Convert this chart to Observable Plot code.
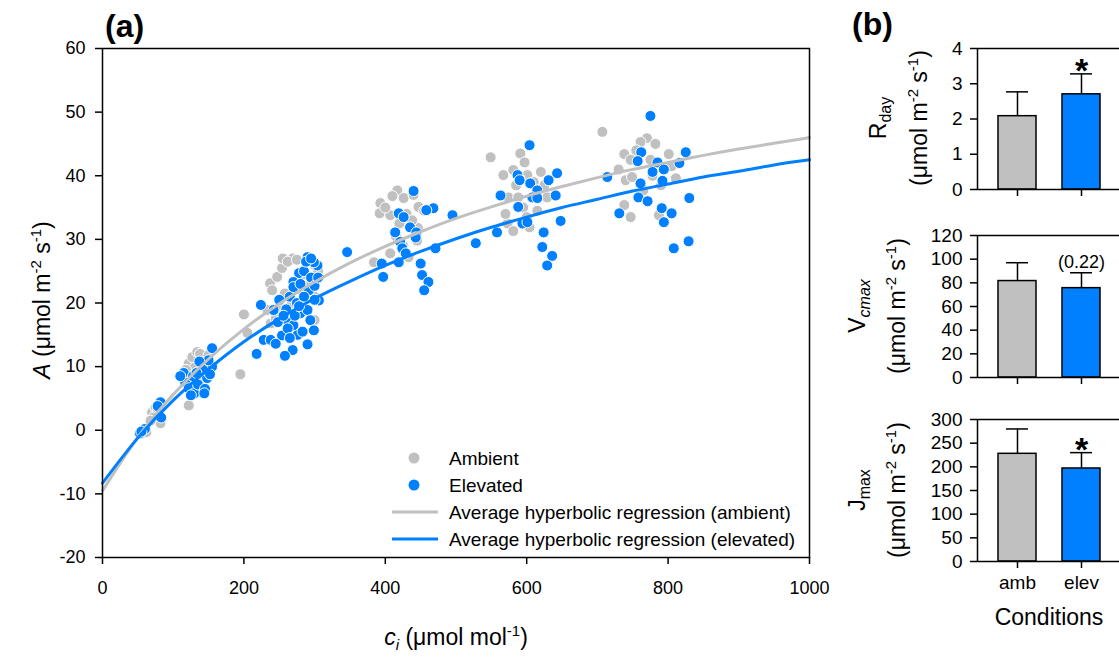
<!DOCTYPE html>
<html>
<head>
<meta charset="utf-8">
<script src="https://cdn.jsdelivr.net/npm/d3@7"></script>
<script src="https://cdn.jsdelivr.net/npm/@observablehq/plot@0.6"></script>
<style>
  html, body { margin: 0; padding: 0; background: white; }
  #root { position: relative; width: 1119px; height: 657px; overflow: hidden; background: white;
          font-family: "Liberation Sans", Arial, sans-serif; }
  .panel { position: absolute; }
  #overlay { position: absolute; left: 0; top: 0; pointer-events: none; }
</style>
</head>
<body>
<div id="root">
  <div id="pa" class="panel" style="left:0;top:0;width:830px;"></div>
  <div id="pb1" class="panel" style="left:830px;top:0;width:300px;"></div>
  <div id="pb2" class="panel" style="left:830px;top:200px;width:300px;"></div>
  <div id="pb3" class="panel" style="left:830px;top:390px;width:300px;"></div>
  <svg id="overlay" width="1119" height="657" font-family="Liberation Sans, Arial, sans-serif" fill="black">
    <text x="105" y="37" font-size="32" font-weight="bold">(a)</text>
    <text x="852" y="35" font-size="32" font-weight="bold">(b)</text>
    <text transform="translate(50,300) rotate(-90)" text-anchor="middle" font-size="23"><tspan font-style="italic">A</tspan> (μmol m<tspan dy="-9" font-size="15">-2</tspan><tspan dy="9"> s</tspan><tspan dy="-9" font-size="15">-1</tspan><tspan dy="9">)</tspan></text>
    <text x="456" y="645" text-anchor="middle" font-size="23"><tspan font-style="italic">c</tspan><tspan font-style="italic" font-size="15" dy="5">i</tspan><tspan dy="-5"> (μmol mol</tspan><tspan dy="-9" font-size="15">-1</tspan><tspan dy="9">)</tspan></text>
    <!-- legend -->
    <g id="legend" font-size="19">
      <circle cx="414" cy="458" r="5.5" fill="#c0c0c0"></circle>
      <text x="449" y="465">Ambient</text>
      <circle cx="414" cy="485" r="5.5" fill="#0080ff"></circle>
      <text x="449" y="492">Elevated</text>
      <line x1="392" x2="438" y1="512" y2="512" stroke="#c0c0c0" stroke-width="3"></line>
      <text x="449" y="519">Average hyperbolic regression (ambient)</text>
      <line x1="392" x2="438" y1="539" y2="539" stroke="#0080ff" stroke-width="3"></line>
      <text x="449" y="546">Average hyperbolic regression (elevated)</text>
    </g>
    <!-- panel b labels -->
    <text transform="translate(886,118) rotate(-90)" text-anchor="middle" font-size="23">R<tspan font-size="16" dy="5">day</tspan></text>
    <text transform="translate(927,118) rotate(-90)" text-anchor="middle" font-size="23">(μmol m<tspan dy="-9" font-size="15">-2</tspan><tspan dy="9"> s</tspan><tspan dy="-9" font-size="15">-1</tspan><tspan dy="9">)</tspan></text>
    <text transform="translate(865,306) rotate(-90)" text-anchor="middle" font-size="23">V<tspan font-size="16" dy="5" font-style="italic">cmax</tspan></text>
    <text transform="translate(905,306) rotate(-90)" text-anchor="middle" font-size="23">(μmol m<tspan dy="-9" font-size="15">-2</tspan><tspan dy="9"> s</tspan><tspan dy="-9" font-size="15">-1</tspan><tspan dy="9">)</tspan></text>
    <text transform="translate(865,490) rotate(-90)" text-anchor="middle" font-size="23">J<tspan font-size="16" dy="5">max</tspan></text>
    <text transform="translate(905,490) rotate(-90)" text-anchor="middle" font-size="23">(μmol m<tspan dy="-9" font-size="15">-2</tspan><tspan dy="9"> s</tspan><tspan dy="-9" font-size="15">-1</tspan><tspan dy="9">)</tspan></text>
    <text x="1049" y="625" text-anchor="middle" font-size="23">Conditions</text>
  </svg>
</div>
<script>
// ---------- Panel (a) data ----------
const ambCi = [58,62,70,75,78,82,72,68,80,
  122,122,127,134,130,140,145,118,138,150,125,142,132,
  195,200,205,
  237,247,269,254,233,238,240,255,262,275,285,295,300,305,258,268,250,290,280,300,245,300,
  417,393,392,426,447,407,446,384,407,433,410,430,438,420,455,400,440,415,425,445,
  549,
  591,597,567,581,620,601,574,588,629,573,581,604,585,610,595,615,570,600,625,590,
  707,770,761,782,738,747,801,775,796,811,740,749,765,738,747,787,755,790,805,730,778];
const ambA = [-0.5,-0.3,2.8,3.5,3.2,1.1,2.0,1.5,4.0,
  3.9,10.5,11.5,12.3,9.8,11.0,10.2,9.5,12.0,11.8,8.0,7.5,6.0,
  8.8,18.2,15.3,
  23.1,24.1,27.0,25.5,18.9,16.8,22.0,27.0,26.5,26.8,24.5,23.0,26.0,25.0,21.5,20.0,19.5,19.0,22.2,21.0,17.5,17.3,
  37.7,35.7,34.1,36.5,35.1,33.8,31.8,26.4,27.8,27.2,36.8,34.0,33.0,32.5,34.5,35.0,37.0,30.5,29.0,29.8,
  42.9,
  43.5,42.1,40.1,40.9,40.6,40.1,36.6,36.6,36.6,32.5,31.3,31.9,38.5,39.0,35.0,34.5,34.0,33.5,38.5,39.5,
  46.9,45.9,45.3,45.0,43.4,42.5,43.4,42.5,41.2,39.6,39.3,39.8,37.7,35.4,33.5,33.8,44.0,38.5,41.5,41.0,40.0];

const eleCi = [53,82,83,78,60,55,
  115,117,155,155,148,139,122,130,135,142,150,145,128,137,152,125,144,110,133,
  218,224,228,238,242,254,269,276,261,270,280,290,294,299,306,292,304,290,299,278,270,
  250,260,265,270,275,280,285,262,272,285,295,300,248,256,290,283,300,288,295,278,265,305,245,258,
  346,
  440,468,458,495,419,426,435,444,443,414,421,424,429,419,395,471,397,450,452,461,455,528,
  604,587,590,605,615,631,643,563,608,615,641,588,594,601,558,624,648,622,636,629,
  775,762,757,825,785,816,778,794,714,792,761,758,771,830,731,791,805,794,829,808];
const eleA = [-0.5,4.4,2.0,3.8,0.2,-0.2,
  9.0,7.5,12.9,10.0,8.2,6.0,6.6,5.8,7.2,9.5,11.0,6.5,8.5,10.8,8.8,5.5,5.8,8.5,9.0,
  12.0,19.7,14.2,14.2,18.9,14.9,12.6,15.0,17.3,16.5,18.4,18.9,17.3,15.7,20.4,22.0,25.9,27.2,26.4,24.7,23.3,
  20.5,19.0,21.0,22.5,20.0,23.0,25.0,16.0,18.0,21.0,24.0,22.7,17.0,18.0,13.5,15.5,20.5,26.5,27.0,19.5,14.5,24.0,13.6,11.7,
  28.0,
  37.6,34.9,34.6,33.8,34.1,33.5,31.9,31.1,30.3,31.1,29.6,28.6,27.8,26.4,26.2,28.6,24.1,26.2,24.4,23.3,22.0,29.4,
  44.8,40.1,39.3,38.8,37.7,39.3,40.4,36.9,36.6,36.5,36.9,35.1,32.5,32.7,31.1,31.1,32.9,28.8,27.4,25.9,
  49.4,43.7,42.3,43.7,42.1,42.0,40.6,41.0,39.8,39.2,38.8,36.6,36.0,36.5,34.1,34.9,34.1,32.7,29.7,28.6];

// regression curves
const curveCi = [0,50,100,150,200,250,300,350,400,450,500,550,600,650,700,750,800,850,900,950,1000];
const ambFit = [-9.5,-1.1,5.6,11.2,15.9,19.9,23.3,26.3,28.9,31.2,33.3,35.1,36.8,38.3,39.7,41.0,42.1,43.2,44.2,45.1,46.0];
const eleFit = [-8.3,-1.2,4.7,9.6,13.9,17.5,20.7,23.4,25.9,28.1,30.1,31.9,33.5,35.0,36.3,37.6,38.7,39.8,40.7,41.7,42.5];

const xTicksA = [0,200,400,600,800,1000];
const yTicksA = [-20,-10,0,10,20,30,40,50,60];

// ---------- Panel (b) data ----------
const conditions = ["amb","elev"];
const rdayMean = [2.08, 2.70];
const rdayUpper = [2.77, 3.28];
const rdayNote = ["", "*"];
const vcmaxMean = [81.5, 75.5];
const vcmaxUpper = [97, 88.5];
const vcmaxNote = ["", "(0.22)"];
const jmaxMean = [227.5, 196.5];
const jmaxUpper = [280, 230];
const jmaxNote = ["", "*"];
const rdayTicks = [0,1,2,3,4];
const vcmaxTicks = [0,20,40,60,80,100,120];
const jmaxTicks = [0,50,100,150,200,250,300];

const GRAY = "#c0c0c0";
const BLUE = "#0080ff";

// ---------- Panel (a) ----------
const amb = ambCi.map((c,i)=>({ci:c, A:ambA[i]}));
const ele = eleCi.map((c,i)=>({ci:c, A:eleA[i]}));
const fitA = curveCi.map((c,i)=>({ci:c, A:ambFit[i]}));
const fitE = curveCi.map((c,i)=>({ci:c, A:eleFit[i]}));

const plotA = Plot.plot({
  width: 830, height: 600,
  marginLeft: 102, marginTop: 48, marginRight: 21, marginBottom: 43,
  style: {fontFamily: "Liberation Sans, Arial, sans-serif", fontSize: "18px", color: "black", background: "transparent", overflow: "visible"},
  x: {domain: [0,1000]},
  y: {domain: [-20,60]},
  marks: [
    Plot.dot(amb, {x:"ci", y:"A", r:5.5, fill:GRAY, stroke:"white", strokeWidth:1}),
    Plot.dot(ele, {x:"ci", y:"A", r:5.5, fill:BLUE, stroke:"white", strokeWidth:1}),
    Plot.line(fitA, {x:"ci", y:"A", stroke:GRAY, strokeWidth:3, curve:"natural"}),
    Plot.line(fitE, {x:"ci", y:"A", stroke:BLUE, strokeWidth:3, curve:"natural"}),
    Plot.frame({stroke:"black", strokeWidth:1.5}),
    Plot.axisX({ticks: xTicksA, tickSize: 7, tickPadding: 17, tickFormat: d => String(d), label: null, strokeWidth: 1.5}),
    Plot.axisY({ticks: yTicksA, tickSize: 7, tickPadding: 10, tickFormat: d => String(d), label: null, strokeWidth: 1.5})
  ]
});
document.getElementById("pa").appendChild(plotA);

// ---------- Panel (b) ----------
function barPanel(opts) {
  const rows = conditions.map((c,i)=>({c, v: opts.mean[i], u: opts.upper[i], n: opts.note[i], col: i===0 ? GRAY : BLUE}));
  return Plot.plot({
    width: 300, height: opts.height,
    marginLeft: 147, marginRight: 9, marginTop: opts.marginTop, marginBottom: opts.marginBottom,
    style: {fontFamily: "Liberation Sans, Arial, sans-serif", fontSize: "19px", color: "black", background: "transparent", overflow: "visible"},
    x: {domain: conditions, paddingInner: 0.406, paddingOuter: 0.328},
    y: {domain: opts.domain},
    marks: [
      Plot.ruleX(rows, {x:"c", y1:"v", y2:"u", stroke:"black", strokeWidth:1.5}),
      Plot.tickY(rows, {x:"c", y:"u", stroke:"black", strokeWidth:1.5, insetLeft:8, insetRight:8}),
      Plot.barY(rows, {x:"c", y:"v", fill:"col", stroke:"black", strokeWidth:1.5}),
      Plot.text(rows, {x:"c", y:"u", text:"n", fontSize: opts.noteSize, fontWeight: opts.noteWeight, lineAnchor:"bottom", dy: opts.noteDy}),
      Plot.frame({stroke:"black", strokeWidth:1.5}),
      Plot.axisX({tickSize: 7, tickPadding: 7, tickFormat: opts.showLabels ? (d => d) : (() => ""), label: null, strokeWidth: 1.5}),
      Plot.axisY({ticks: opts.ticks, tickSize: 7, tickPadding: 8, tickFormat: d => String(d), label: null, strokeWidth: 1.5})
    ]
  });
}

document.getElementById("pb1").appendChild(barPanel({
  mean: rdayMean, upper: rdayUpper, note: rdayNote, ticks: rdayTicks, domain: [0,4],
  height: 210, marginTop: 48, marginBottom: 21, showLabels: false, noteSize: 34, noteDy: 8, noteWeight: "bold"}));
document.getElementById("pb2").appendChild(barPanel({
  mean: vcmaxMean, upper: vcmaxUpper, note: vcmaxNote, ticks: vcmaxTicks, domain: [0,120],
  height: 190, marginTop: 35, marginBottom: 13, showLabels: false, noteSize: 18, noteDy: -5, noteWeight: "normal"}));
document.getElementById("pb3").appendChild(barPanel({
  mean: jmaxMean, upper: jmaxUpper, note: jmaxNote, ticks: jmaxTicks, domain: [0,300],
  height: 267, marginTop: 29, marginBottom: 96, showLabels: true, noteSize: 34, noteDy: 8, noteWeight: "bold"}));
</script>
</body>
</html>
